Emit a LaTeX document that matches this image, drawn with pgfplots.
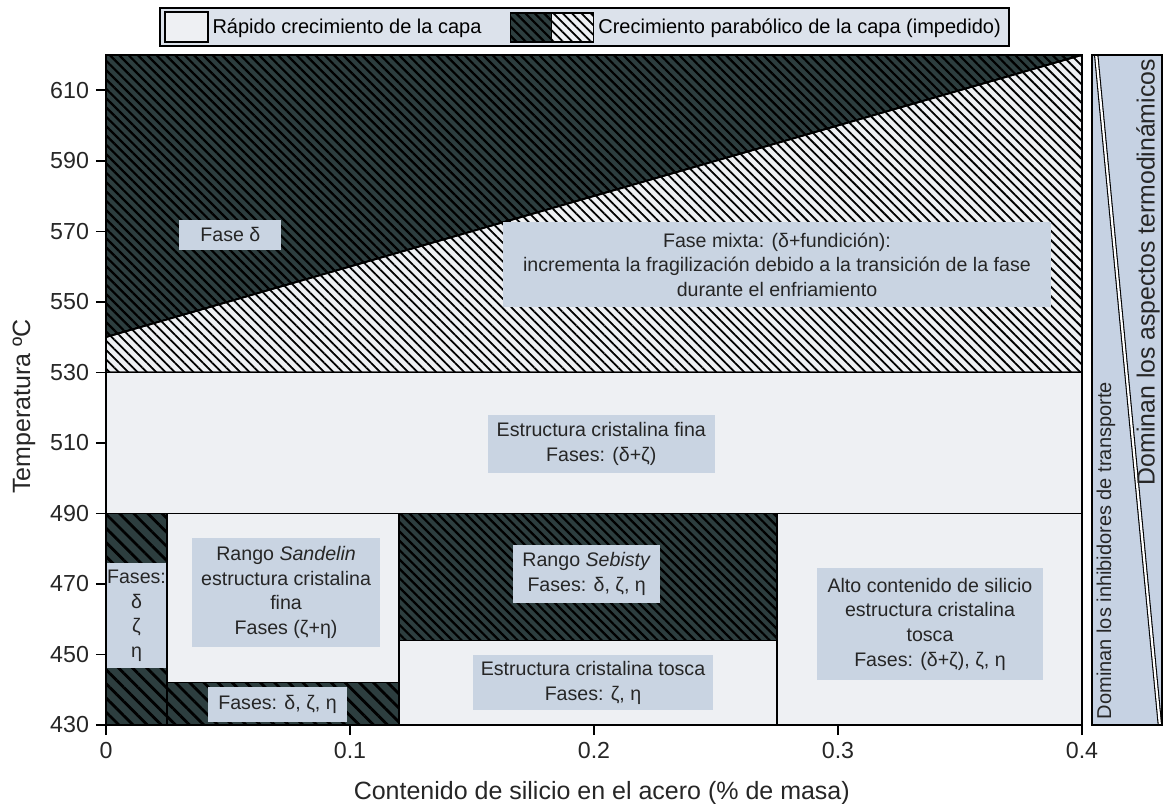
\documentclass[border=0pt]{standalone}
\usepackage{fontspec}
\setmainfont{Liberation Sans}
\usepackage{pgfplots}
\pgfplotsset{compat=1.18}
\usetikzlibrary{patterns.meta}

\definecolor{darkfill}{HTML}{2D3E3F}
\definecolor{lightfill}{HTML}{EEF0F3}
\definecolor{boxfill}{HTML}{C9D4E2}
\definecolor{legfill}{HTML}{DCE2EB}
\definecolor{panelfill}{HTML}{C6D2E3}

\tikzset{
  darkhatch/.style={fill=darkfill,
    postaction={pattern={Lines[angle=-45,distance=3.3pt,line width=1.1pt]}, pattern color=black}},
  darkhatchwide/.style={fill=darkfill,
    postaction={pattern={Lines[angle=-45,distance=5pt,line width=1.4pt]}, pattern color=black}},
  whitehatch/.style={fill=lightfill,
    postaction={pattern={Lines[angle=-45,distance=3.3pt,line width=0.9pt]}, pattern color=black}},
  region/.style={draw=black, line width=0.8pt},
  lbl/.style={fill=boxfill, inner sep=1pt, align=center, text=black!85,
    font=\fontsize{9.8}{12.3}\selectfont},
}

\begin{document}
\begin{tikzpicture}
\path[use as bounding box] (-53pt,-39.5pt) rectangle (529pt,362.5pt);

\begin{axis}[
  at={(0pt,0pt)}, anchor=south west,
  scale only axis, width=488pt, height=335pt,
  xmin=0, xmax=0.4, ymin=430, ymax=620,
  xtick={0,0.1,0.2,0.3,0.4}, xticklabels={0,0.1,0.2,0.3,0.4},
  ytick={430,450,...,610},
  tick align=outside, tick pos=left, major tick length=5pt,
  tick style={black, line width=0.8pt},
  axis line style={line width=1pt},
  ticklabel style={font=\fontsize{11.6}{13}\selectfont, text=black!85},
  /pgf/number format/assume math mode=true,
  xlabel={Contenido de silicio en el acero (\% de masa)},
  ylabel={Temperatura ºC},
  label style={font=\fontsize{12.5}{14}\selectfont, text=black!85},
  xlabel style={at={(axis description cs:0.508,-0.1015)}, anchor=center},
  ylabel style={at={(axis description cs:-0.084,0.475)}, anchor=center},
  axis on top,
  legend cell align=left,
  legend style={at={(axis description cs:0.49,1.012)}, anchor=south,
    legend columns=2, fill=legfill, draw=black, line width=0.9pt,
    font=\fontsize{10}{12}\selectfont, inner xsep=2pt, inner ysep=1.5pt,
    /tikz/every even column/.append style={column sep=12pt}},
]

% legend swatches
\addlegendimage{legend image code/.code={
  \draw[fill=lightfill, line width=0.9pt] (0pt,-7.5pt) rectangle (21.5pt,7.5pt);}}
\addlegendentry{Rápido crecimiento de la capa}
\addlegendimage{legend image code/.code={
  \draw[line width=0.9pt, darkhatch] (0pt,-7.25pt) rectangle (20.5pt,7.25pt);
  \draw[line width=0.9pt, whitehatch] (20.5pt,-7.25pt) rectangle (41.5pt,7.25pt);}}
\addlegendentry{Crecimiento parabólico de la capa (impedido)}

% upper zone: delta phase above the boundary, mixed phase below
\addplot[region, darkhatch, forget plot] coordinates {(0,540) (0.4,620) (0,620)} -- cycle;
\addplot[region, whitehatch, forget plot] coordinates {(0,530) (0.4,530) (0.4,620) (0,540)} -- cycle;
% fine crystalline band
\addplot[region, fill=lightfill, forget plot] coordinates {(0,490) (0.4,490) (0.4,530) (0,530)} -- cycle;
% low-silicon strip
\addplot[region, darkhatchwide, forget plot] coordinates {(0,430) (0.025,430) (0.025,490) (0,490)} -- cycle;
% Sandelin range
\addplot[region, fill=lightfill, forget plot] coordinates {(0.025,442) (0.12,442) (0.12,490) (0.025,490)} -- cycle;
\addplot[region, darkhatchwide, forget plot] coordinates {(0.025,430) (0.12,430) (0.12,442) (0.025,442)} -- cycle;
% Sebisty range
\addplot[region, darkhatch, forget plot] coordinates {(0.12,454) (0.275,454) (0.275,490) (0.12,490)} -- cycle;
\addplot[region, fill=lightfill, forget plot] coordinates {(0.12,430) (0.275,430) (0.275,454) (0.12,454)} -- cycle;
% high silicon
\addplot[region, fill=lightfill, forget plot] coordinates {(0.275,430) (0.4,430) (0.4,490) (0.275,490)} -- cycle;

% region labels
\node[lbl, minimum width=51pt, minimum height=15pt] at (axis cs:0.051,569) {Fase δ};
\node[lbl, minimum width=274pt, minimum height=42.5pt] at (axis cs:0.275,560.5)
  {Fase mixta: (δ+fundición):\\incrementa la fragilización debido a la transición de la fase\\durante el enfriamiento};
\node[lbl, minimum width=113.5pt, minimum height=29pt] at (axis cs:0.203,509.7)
  {Estructura cristalina fina\\Fases: (δ+ζ)};
\node[lbl, minimum width=94pt, minimum height=54.5pt] at (axis cs:0.0738,467.6)
  {Rango \textit{Sandelin}\\estructura cristalina\\fina\\Fases (ζ+η)};
\node[lbl, minimum width=28.5pt, minimum height=52.5pt, inner sep=0pt] at (axis cs:0.0125,461)
  {Fases:\\δ\\ζ\\η};
\node[lbl, minimum width=69.5pt, minimum height=17.5pt] at (axis cs:0.0703,435.8)
  {Fases: δ, ζ, η};
\node[lbl, minimum width=73.5pt, minimum height=29pt] at (axis cs:0.197,472.8)
  {Rango \textit{Sebisty}\\Fases: δ, ζ, η};
\node[lbl, minimum width=120pt, minimum height=27.5pt] at (axis cs:0.1996,442)
  {Estructura cristalina tosca\\Fases: ζ, η};
\node[lbl, minimum width=113pt, minimum height=56pt] at (axis cs:0.3377,458.6)
  {Alto contenido de silicio\\estructura cristalina\\tosca\\Fases: (δ+ζ), ζ, η};
\end{axis}

% side panel: transport vs thermodynamic control
\begin{axis}[
  at={(493pt,0pt)}, anchor=south west,
  scale only axis, width=35pt, height=335pt,
  xmin=0, xmax=1, ymin=430, ymax=620,
  ticks=none, axis line style={line width=0.8pt}, axis on top,
]
\addplot[fill=panelfill, draw=none] coordinates {(0,430) (1,430) (1,620) (0,620)} -- cycle;
\addplot[draw=black, double=white, double distance=1.1pt, line width=0.55pt] coordinates {(0.06,620) (0.97,430)};
\node[rotate=90, anchor=west, inner sep=1pt, text=black!85, font=\fontsize{10}{12}\selectfont]
  at (axis cs:0.2,431) {Dominan los inhibidores de transporte};
\node[rotate=90, anchor=east, inner sep=1pt, text=black!85, font=\fontsize{12.4}{14}\selectfont]
  at (axis cs:0.8,619.5) {Dominan los aspectos termodinámicos};
\end{axis}
\end{tikzpicture}
\end{document}
